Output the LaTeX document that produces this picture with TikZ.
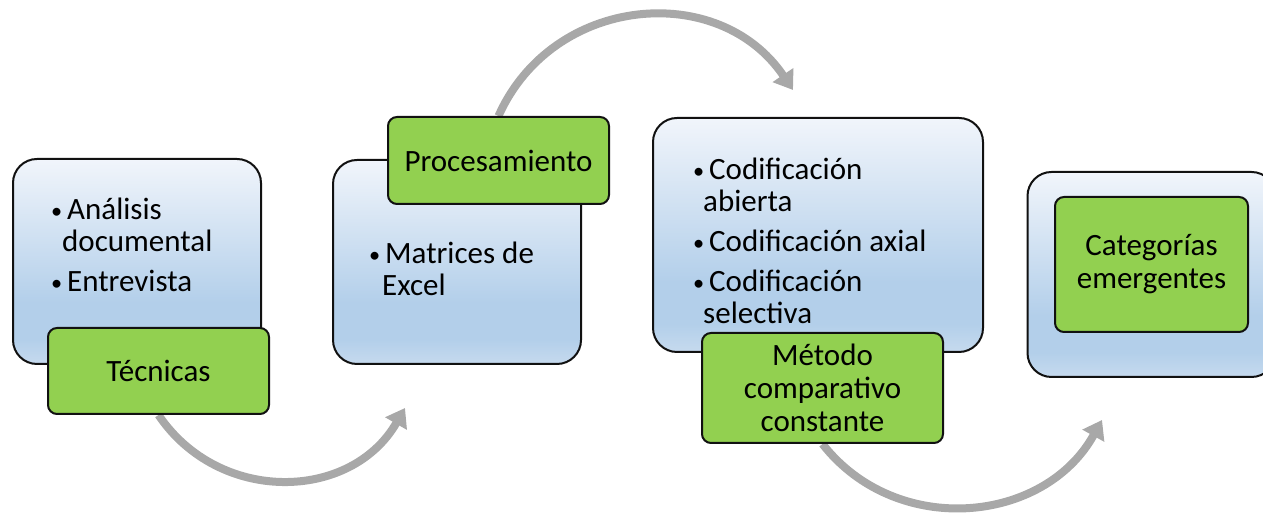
\documentclass[tikz,border=0pt]{standalone}
\usepackage{fontspec}
\setmainfont{Carlito}
\usepackage{graphicx}
\usetikzlibrary{arrows.meta}
\pgfdeclarelayer{background}
\pgfdeclarelayer{foreground}
\pgfsetlayers{background,main,foreground}
\usepackage{xcolor}

\definecolor{verde}{HTML}{92D050}
\definecolor{azulTop}{HTML}{F1F5FB}
\definecolor{azulBot}{HTML}{B3CFEA}
\definecolor{azulPie}{HTML}{C6DAEE}
\definecolor{gris}{HTML}{A8A8A8}
\definecolor{borde}{HTML}{111111}

\pgfdeclareverticalshading{azulcaja}{100bp}{color(0bp)=(azulPie); color(25bp)=(azulPie); color(31bp)=(azulBot); color(40bp)=(azulBot); color(75bp)=(azulTop); color(100bp)=(azulTop)}

\newcommand{\bul}{\makebox[15pt][l]{\hspace*{-1pt}\raisebox{1.5pt}{\scalebox{.72}{\textbullet}}}}

\tikzset{
  caja/.style={draw=borde, line width=2pt, rounded corners=24pt, shade, shading=azulcaja, minimum width=248pt, minimum height=205pt, inner sep=0pt},
  etiqueta/.style={draw=borde, line width=2pt, rounded corners=9pt, fill=verde, inner sep=0pt, align=center, font=\fontsize{31}{33}\selectfont},
  lista/.style={align=left, inner sep=0pt, anchor=north west, font=\fontsize{31}{32}\selectfont},
  flecha/.style={draw=gris, line width=8pt, -{Triangle[length=18pt,width=24pt]}}
}

\begin{document}
\begin{tikzpicture}[x=1pt,y=1pt]
\useasboundingbox (0,0) rectangle (1263,518);

% cajas
\node [caja] (b1) at (137,256.5) {};
\node [caja, minimum height=204pt] (b2) at (457,256) {};
\node [caja, minimum width=330pt, minimum height=234pt] (b3) at (818,283) {};
\node [caja] (b4) at (1151.5,243.5) {};

\node [lista] (t1) at (52,320) {\bul Análisis\\\hspace*{10pt}documental\\[8pt]\bul Entrevista};
\node [lista] (t2) at (370,276) {\bul Matrices de\\\hspace*{12pt}Excel};
\node [lista] (t3) at (694,360) {\bul Codificación\\\hspace*{9pt}abierta\\[8pt]\bul Codificación axial\\[8pt]\bul Codificación\\\hspace*{9pt}selectiva};

% etiquetas verdes
\node [etiqueta, minimum width=221pt, minimum height=86pt] (tec) at (158.5,147) {Técnicas};
\node [etiqueta, minimum width=221pt, minimum height=87pt] (proc) at (498.5,357.5) {Procesamiento};
\node [etiqueta, minimum width=241pt, minimum height=110pt] (met) at (822.5,130) {Método\\comparativo\\constante};
\node [etiqueta, minimum width=193pt, minimum height=135pt] (cat) at (1151.5,253.5) {Categorías\\emergentes};

% flechas
\coordinate (p1) at (405,110);
\coordinate (p2) at (793,428);
\coordinate (p3) at (1102,98);

\begin{pgfonlayer}{background}
\draw [flecha] (tec.south) to [out=-56,in=240,looseness=1.12] (p1) ;
\draw [flecha] (proc.north) to [out=66,in=124,looseness=1.15] (p2) ;
\draw [flecha] (met.south) to [out=-52,in=241,looseness=1.09] (p3) ;
\end{pgfonlayer}

\end{tikzpicture}
\end{document}
